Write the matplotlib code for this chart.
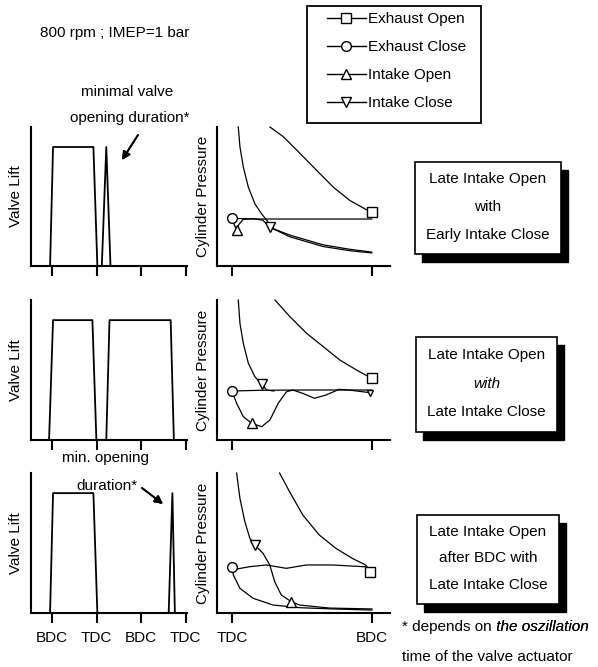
import matplotlib.pyplot as plt
from matplotlib import font_manager as fm
from matplotlib.lines import Line2D
from matplotlib.patches import Rectangle

plt.rcParams['font.family'] = ['Liberation Sans', 'DejaVu Sans']

W, H = 598, 667

# ---- axis ticks ----
lift_ticks = [0, 180, 360, 540]
lift_labels = ['BDC', 'TDC', 'BDC', 'TDC']
press_ticks = [0, 1]
press_labels = ['TDC', 'BDC']

# ---- valve lift (crank angle in deg, relative lift) ----
lift1_exh_x = [-8, 4, 167, 183]
lift1_exh_y = [0, 1, 1, 0]
lift1_int_x = [201, 219, 236]
lift1_int_y = [0, 1, 0]

lift2_exh_x = [-12, 4, 163, 179]
lift2_exh_y = [0, 1, 1, 0]
lift2_int_x = [219, 232, 479, 492]
lift2_int_y = [0, 1, 1, 0]

lift3_exh_x = [-8, 4, 167, 183]
lift3_exh_y = [0, 1, 1, 0]
lift3_int_x = [471, 486, 496]
lift3_int_y = [0, 1, 0]

# ---- cylinder pressure (0 = TDC, 1 = BDC; relative pressure) ----
# panel 1: late intake open with early intake close
p1_exp_x = [0.271, 0.367, 0.486, 0.605, 0.724, 0.843, 0.962, 0.998]
p1_exp_y = [1.0, 0.93, 0.81, 0.688, 0.567, 0.471, 0.404, 0.386]
p1_exh_x = [0.0, 0.1, 0.2, 0.5, 0.8, 0.998]
p1_exh_y = [0.343, 0.34, 0.338, 0.338, 0.338, 0.338]
p1_comp_x = [0.045, 0.057, 0.081, 0.117, 0.164, 0.212, 0.26, 0.3, 0.414, 0.652, 0.843, 0.998]
p1_comp_y = [1.0, 0.857, 0.712, 0.567, 0.447, 0.375, 0.314, 0.265, 0.21, 0.14, 0.11, 0.094]
p1_int_x = [0.0, 0.015, 0.033, 0.05, 0.08, 0.15, 0.22, 0.271, 0.414, 0.652, 0.843, 0.998]
p1_int_y = [0.343, 0.3, 0.259, 0.3, 0.335, 0.34, 0.33, 0.278, 0.222, 0.152, 0.12, 0.1]
p1_eo = (0.998, 0.386)
p1_ec = (0.0, 0.343)
p1_io = (0.033, 0.259)
p1_ic = (0.271, 0.278)

# panel 2: late intake open with late intake close
p2_exp_x = [0.307, 0.414, 0.533, 0.652, 0.771, 0.89, 0.998]
p2_exp_y = [1.0, 0.881, 0.762, 0.667, 0.571, 0.5, 0.44]
p2_exh_x = [0.0, 0.2, 0.5, 0.8, 0.998]
p2_exh_y = [0.35, 0.355, 0.357, 0.357, 0.357]
p2_comp_x = [0.045, 0.057, 0.081, 0.117, 0.164, 0.205, 0.212, 0.248, 0.3]
p2_comp_y = [1.0, 0.833, 0.69, 0.548, 0.452, 0.405, 0.398, 0.357, 0.35]
p2_int_x = [0.0, 0.033, 0.081, 0.14, 0.212, 0.271, 0.33, 0.39, 0.435, 0.506,
            0.589, 0.671, 0.766, 0.837, 0.986]
p2_int_y = [0.35, 0.262, 0.167, 0.119, 0.095, 0.143, 0.262, 0.345, 0.357, 0.333,
            0.298, 0.321, 0.362, 0.357, 0.338]
p2_eo = (0.998, 0.44)
p2_ec = (0.0, 0.35)
p2_io = (0.14, 0.119)
p2_ic = (0.212, 0.398)
p2_ic_late = (0.986, 0.338)

# panel 3: late intake open after BDC with late intake close
p3_exp_x = [0.34, 0.411, 0.506, 0.624, 0.742, 0.86, 0.955, 0.989]
p3_exp_y = [1.0, 0.867, 0.7, 0.557, 0.462, 0.39, 0.343, 0.3]
p3_exh_x = [0.0, 0.033, 0.128, 0.246, 0.388, 0.53, 0.719, 0.955, 0.989]
p3_exh_y = [0.33, 0.314, 0.331, 0.343, 0.319, 0.343, 0.343, 0.33, 0.3]
p3_comp_x = [0.033, 0.057, 0.092, 0.128, 0.163, 0.222, 0.27, 0.305, 0.352, 0.423,
             0.482, 0.7, 1.0]
p3_comp_y = [1.0, 0.818, 0.652, 0.533, 0.486, 0.426, 0.343, 0.224, 0.129, 0.081,
             0.057, 0.035, 0.029]
p3_low_x = [0.0, 0.01, 0.057, 0.151, 0.293, 0.482, 0.719, 1.0]
p3_low_y = [0.33, 0.271, 0.176, 0.105, 0.057, 0.038, 0.029, 0.021]
p3_eo = (0.989, 0.295)
p3_ec = (0.0, 0.33)
p3_io = (0.423, 0.081)
p3_ic = (0.163, 0.486)

case_texts = [
    ['Late Intake Open', 'with', 'Early Intake Close'],
    ['Late Intake Open', 'with', 'Late Intake Close'],
    ['Late Intake Open', 'after BDC with', 'Late Intake Close'],
]

FS = 11

# pick a family whose regular italic face is really installed
ITAL_FAMILY = 'DejaVu Sans'
for fam in ['Liberation Sans', 'Roboto', 'Open Sans', 'Noto Sans', 'Lato']:
    try:
        path = fm.findfont(fm.FontProperties(family=fam, style='italic', weight='normal'),
                           fallback_to_default=False)
    except Exception:
        continue
    name = path.lower().replace('\\', '/').split('/')[-1]
    if 'bold' not in name and ('italic' in name or 'oblique' in name):
        ITAL_FAMILY = fam
        break
ital = dict(family=ITAL_FAMILY, style='italic', fontweight='normal')


def fx(px):
    return px / W


def fy(py):
    return 1 - py / H


def rect_px(l, t, r, b, **kw):
    return Rectangle((fx(l), fy(b)), (r - l) / W, (b - t) / H,
                     transform=fig.transFigure, **kw)


fig = plt.figure(figsize=(W / 100, H / 100), dpi=100)

# panel rows: (top px, bottom px)
rows = [(127, 266), (300, 440), (473, 613)]

mk = dict(mfc='white', mec='black', mew=1.0, ls='none', ms=7)
lw_curve = 0.9


def style_axes(ax):
    for s in ['top', 'right']:
        ax.spines[s].set_visible(False)
    for s in ['left', 'bottom']:
        ax.spines[s].set_linewidth(1.5)
    ax.tick_params(axis='y', left=False, labelleft=False)
    ax.tick_params(axis='x', direction='out', length=7, width=1.5,
                   labelsize=FS, pad=6)


lift_data = [
    (lift1_exh_x, lift1_exh_y, lift1_int_x, lift1_int_y),
    (lift2_exh_x, lift2_exh_y, lift2_int_x, lift2_int_y),
    (lift3_exh_x, lift3_exh_y, lift3_int_x, lift3_int_y),
]

lift_axes = []
press_axes = []
for i, (top, bot) in enumerate(rows):
    axl = fig.add_axes([fx(31), fy(bot), (187 - 31) / W, (bot - top) / H])
    style_axes(axl)
    ex, ey, ix, iy = lift_data[i]
    axl.plot(ex, ey, color='black', lw=1.3)
    axl.plot(ix, iy, color='black', lw=1.3)
    axl.set_xlim(-85, 545)
    axl.set_ylim(0, 1.168)
    axl.set_xticks(lift_ticks)
    axl.set_xticklabels(lift_labels if i == 2 else [])
    axl.set_ylabel('Valve Lift', fontsize=FS, labelpad=6)
    lift_axes.append(axl)

    axp = fig.add_axes([fx(217), fy(bot), (390 - 217) / W, (bot - top) / H])
    style_axes(axp)
    axp.set_xlim(-0.107, 1.129)
    axp.set_ylim(0, 1.0)
    axp.set_xticks(press_ticks)
    axp.set_xticklabels(press_labels if i == 2 else [])
    axp.set_ylabel('Cylinder Pressure', fontsize=FS, labelpad=5)
    press_axes.append(axp)

# pressure panel 1
ax = press_axes[0]
ax.plot(p1_exp_x, p1_exp_y, color='black', lw=lw_curve)
ax.plot(p1_exh_x, p1_exh_y, color='black', lw=lw_curve)
ax.plot(p1_comp_x, p1_comp_y, color='black', lw=lw_curve)
ax.plot(p1_int_x, p1_int_y, color='black', lw=lw_curve)
ax.plot(*p1_eo, marker='s', **mk)
ax.plot(*p1_ec, marker='o', **mk)
ax.plot(*p1_io, marker='^', **mk)
ax.plot(*p1_ic, marker='v', **mk)

# pressure panel 2
ax = press_axes[1]
ax.plot(p2_exp_x, p2_exp_y, color='black', lw=lw_curve)
ax.plot(p2_exh_x, p2_exh_y, color='black', lw=lw_curve)
ax.plot(p2_comp_x, p2_comp_y, color='black', lw=lw_curve)
ax.plot(p2_int_x, p2_int_y, color='black', lw=lw_curve)
ax.plot(*p2_eo, marker='s', **mk)
ax.plot(*p2_ec, marker='o', **mk)
ax.plot(*p2_io, marker='^', **mk)
ax.plot(*p2_ic, marker='v', **mk)
ax.plot(*p2_ic_late, marker='v', mfc='white', mec='black', mew=1.0, ls='none', ms=4)

# pressure panel 3
ax = press_axes[2]
ax.plot(p3_exp_x, p3_exp_y, color='black', lw=lw_curve)
ax.plot(p3_exh_x, p3_exh_y, color='black', lw=lw_curve)
ax.plot(p3_comp_x, p3_comp_y, color='black', lw=lw_curve)
ax.plot(p3_low_x, p3_low_y, color='black', lw=lw_curve)
ax.plot(*p3_eo, marker='s', **mk)
ax.plot(*p3_ec, marker='o', **mk)
ax.plot(*p3_io, marker='^', **mk)
ax.plot(*p3_ic, marker='v', **mk)

for a in press_axes:
    for ln in a.lines:
        ln.set_clip_on(False)

# ---- legend ----
fig.add_artist(rect_px(307, 6, 481, 123, facecolor='white', edgecolor='black', lw=1.3))
handles = [
    Line2D([], [], color='black', lw=1.0, marker='s', mfc='white', mec='black', ms=7),
    Line2D([], [], color='black', lw=1.0, marker='o', mfc='white', mec='black', ms=7),
    Line2D([], [], color='black', lw=1.0, marker='^', mfc='white', mec='black', ms=7),
    Line2D([], [], color='black', lw=1.0, marker='v', mfc='white', mec='black', ms=7),
]
fig.legend(handles, ['Exhaust Open', 'Exhaust Close', 'Intake Open', 'Intake Close'],
           loc='upper left', bbox_to_anchor=(fx(327), fy(12)), borderaxespad=0,
           borderpad=0, frameon=False, fontsize=FS, handlelength=2.55,
           handletextpad=0.12, labelspacing=0.92, numpoints=1)

# ---- case boxes with shadow ----
boxes = [(415, 162, 561, 254), (416, 337, 557, 432), (417, 515, 559, 604)]
for j, (l, t, r, b) in enumerate(boxes):
    fig.add_artist(rect_px(l + 7, t + 8, r + 7, b + 8, facecolor='black', edgecolor='black'))
    fig.add_artist(rect_px(l, t, r, b, facecolor='white', edgecolor='black', lw=1.2))
    cx = (l + r) / 2
    gap = (b - t) / 3.3
    for k, line in enumerate(case_texts[j]):
        kw = ital if (j == 1 and k == 1) else {}
        fig.text(fx(cx), fy((t + b) / 2 + (k - 1) * gap - 1), line, ha='center',
                 va='center', fontsize=FS, **kw)

# ---- texts ----
fig.text(fx(40), fy(33), '800 rpm ; IMEP=1 bar', ha='left', va='center', fontsize=FS)
fig.text(fx(127), fy(92), 'minimal valve', ha='center', va='center', fontsize=FS)
fig.text(fx(130), fy(118), 'opening duration*', ha='center', va='center', fontsize=FS)
fig.text(fx(106), fy(458), 'min. opening', ha='center', va='center', fontsize=FS)
fig.text(fx(107), fy(486), 'duration*', ha='center', va='center', fontsize=FS)

arrow = dict(arrowstyle='-|>', color='black', lw=1.3, mutation_scale=12, shrinkA=0, shrinkB=0)
fig.add_artist(plt.annotate('', xy=(fx(122), fy(160)), xytext=(fx(138), fy(135)),
                            xycoords='figure fraction', arrowprops=arrow))
fig.add_artist(plt.annotate('', xy=(fx(163), fy(504)), xytext=(fx(142), fy(488)),
                            xycoords='figure fraction', arrowprops=arrow))

t1 = fig.text(fx(402), fy(627), '* depends on', ha='left', va='center', fontsize=FS)
fig.add_artist(plt.annotate(' the oszillation', xy=(1, 0), xycoords=t1, va='bottom',
                            ha='left', fontsize=FS, **ital))
fig.text(fx(402), fy(657), 'time of the valve actuator', ha='left', va='center', fontsize=FS)

fig.savefig('out.png', dpi=100)
